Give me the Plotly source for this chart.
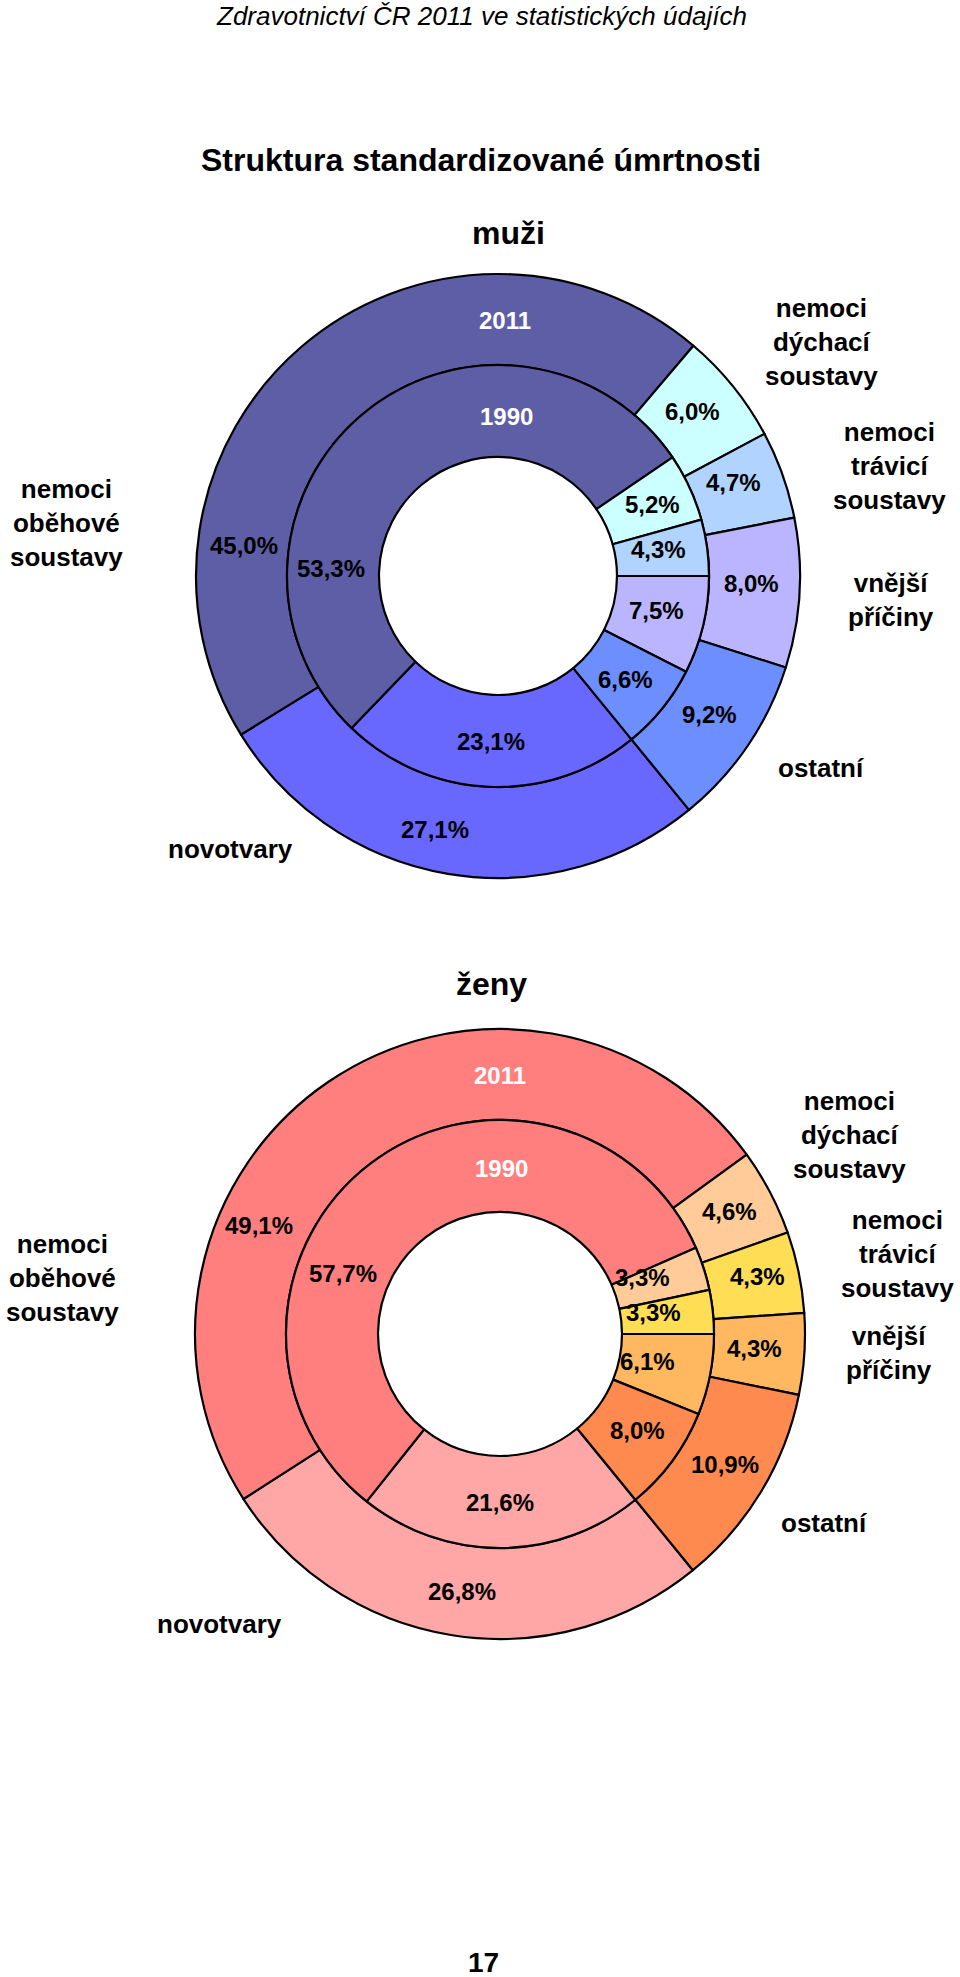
import plotly.graph_objects as go

# ---------------- data ----------------
categories = ["novotvary", "nemoci oběhové soustavy", "nemoci dýchací soustavy",
              "nemoci trávicí soustavy", "vnější příčiny", "ostatní"]
cat_labels = ["novotvary", "nemoci<br>oběhové<br>soustavy", "nemoci<br>dýchací<br>soustavy",
              "nemoci<br>trávicí<br>soustavy", "vnější<br>příčiny", "ostatní"]
years = ["1990", "2011"]
muzi_1990 = [23.1, 53.3, 5.2, 4.3, 7.5, 6.6]
muzi_2011 = [27.1, 45.0, 6.0, 4.7, 8.0, 9.2]
zeny_1990 = [21.6, 57.7, 3.3, 3.3, 6.1, 8.0]
zeny_2011 = [26.8, 49.1, 4.6, 4.3, 4.3, 10.9]

header = "Zdravotnictví ČR 2011 ve statistických údajích"
title = "Struktura standardizované úmrtnosti"
panel_titles = ["muži", "ženy"]
page_no = "17"

# ---------------- styling / layout ----------------
W, H = 960, 1977
FONT = "Liberation Sans, Arial, sans-serif"
NARROW = "Liberation Sans Narrow, Arial Narrow, Liberation Sans, sans-serif"
ROT = 140.76

colors_m = ["#6868ff", "#5e5ea6", "#ccffff", "#b0d4ff", "#bbb5ff", "#6d8eff"]
colors_z = ["#ffa6a6", "#ff7f7f", "#ffcc99", "#ffdd55", "#ffb860", "#ff8a50"]

panels = [
    dict(cx=498, cy=576, r=(302, 211, 119), inner=muzi_1990, outer=muzi_2011, colors=colors_m,
         off_in=[(-7, 166), (-167, -8), (154, -71), (160, -27), (158, 35), (127, 103)],
         off_out=[(-63, 253), (-254, -31), (194, -165), (235, -93), (253, 8), (211, 138)],
         year_off=[(9, -160), (7, -256)],
         cat_pos=[(230, 849), (66, 523), (821, 342), (889, 466), (891, 600), (821, 768)],
         title_pos=(508, 233)),
    dict(cx=500, cy=1334, r=(305, 214, 122), inner=zeny_1990, outer=zeny_2011, colors=colors_z,
         off_in=[(0, 168), (-157, -61), (142, -57), (153, -22), (147, 27), (137, 96)],
         off_out=[(-38, 257), (-241, -109), (229, -123), (257, -58), (254, 14), (225, 130)],
         year_off=[(1, -166), (0, -259)],
         cat_pos=[(219, 1624), (62, 1278), (849, 1135), (897, 1254), (889, 1353), (824, 1523)],
         title_pos=(492, 984)),
]


def dom(cx, cy, r):
    return dict(x=[(cx - r) / W, (cx + r) / W], y=[1 - (cy + r) / H, 1 - (cy - r) / H])


def px(x, y):
    return x / W, 1 - y / H


def fmt(v):
    return f"{v:.1f}%".replace(".", ",")


fig = go.Figure()
ann = []

for p, ptitle in zip(panels, panel_titles):
    r_out, r_mid, r_hole = p["r"]
    for vals, r, hole in [(p["outer"], r_out, r_mid / r_out), (p["inner"], r_mid, r_hole / r_mid)]:
        fig.add_trace(go.Pie(
            values=vals, labels=categories, sort=False, direction="clockwise",
            rotation=ROT, hole=hole, domain=dom(p["cx"], p["cy"], r),
            marker=dict(colors=p["colors"], line=dict(color="black", width=2.2)),
            textinfo="none", showlegend=False,
        ))
    for vals, offs in [(p["inner"], p["off_in"]), (p["outer"], p["off_out"])]:
        for v, (dx, dy) in zip(vals, offs):
            x, y = px(p["cx"] + dx, p["cy"] + dy)
            ann.append(dict(x=x, y=y, text=f"<b>{fmt(v)}</b>", showarrow=False,
                            font=dict(family=FONT, size=24, color="black"),
                            xanchor="center", yanchor="middle"))
    for yr, (dx, dy) in zip(years, p["year_off"]):
        x, y = px(p["cx"] + dx, p["cy"] + dy)
        ann.append(dict(x=x, y=y, text=f"<b>{yr}</b>", showarrow=False,
                        font=dict(family=FONT, size=24, color="white"),
                        xanchor="center", yanchor="middle"))
    for lab, (x0, y0) in zip(cat_labels, p["cat_pos"]):
        x, y = px(x0, y0)
        ann.append(dict(x=x, y=y, text=f"<b>{lab}</b>", showarrow=False,
                        font=dict(family=FONT, size=26, color="black"),
                        xanchor="center", yanchor="middle"))
    x, y = px(*p["title_pos"])
    ann.append(dict(x=x, y=y, text=f"<b>{ptitle}</b>", showarrow=False,
                    font=dict(family=NARROW, size=32, color="black"),
                    xanchor="center", yanchor="middle"))

for txt, pos, size, fam in [(f"<i>{header}</i>", (481, 16), 26, NARROW),
                            (f"<b>{title}</b>", (481, 160), 32, NARROW),
                            (f"<b>{page_no}</b>", (483, 1962), 28, NARROW)]:
    x, y = px(*pos)
    ann.append(dict(x=x, y=y, text=txt, showarrow=False,
                    font=dict(family=fam, size=size, color="black"),
                    xanchor="center", yanchor="middle"))

fig.update_layout(width=W, height=H, margin=dict(l=0, r=0, t=0, b=0),
                  paper_bgcolor="white", plot_bgcolor="white",
                  annotations=ann, showlegend=False)

fig.write_html("out.html", config={"displayModeBar": False},
               post_script="document.body.style.margin='0';")
